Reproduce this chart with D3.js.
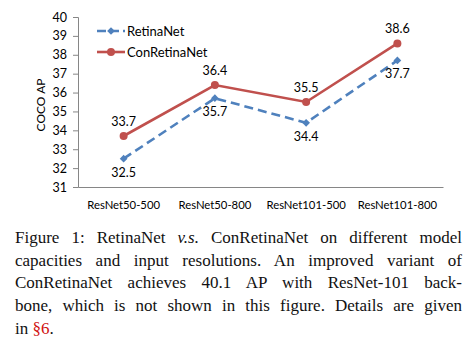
<!DOCTYPE html>
<html>
<head>
<meta charset="utf-8">
<script src="https://cdn.jsdelivr.net/npm/d3@7"></script>
<style>
  body { margin: 0; background: #fff; }
  #chart { position: absolute; left: 0; top: 0; }
  #caption {
    position: absolute; left: 15px; top: 227px; width: 447px;
    font-family: "Liberation Serif", "Times New Roman", serif;
    font-size: 17px; line-height: 22.7px; color: #111;
  }
  #caption .ln { text-align: justify; text-align-last: justify; white-space: nowrap; }
  #caption .ln.last { text-align-last: left; }
  #caption .ref { color: #d01010; }
</style>
</head>
<body>
<div id="chart"></div>
<div id="caption">
  <div class="ln">Figure 1: RetinaNet <i>v.s.</i> ConRetinaNet on different model</div>
  <div class="ln">capacities and input resolutions. An improved variant of</div>
  <div class="ln">ConRetinaNet achieves 40.1 AP with ResNet-101 back-</div>
  <div class="ln">bone, which is not shown in this figure. Details are given</div>
  <div class="ln last">in <span class="ref">§6</span>.</div>
</div>
<script>
// categories and series
var categories = ['ResNet50-500', 'ResNet50-800', 'ResNet101-500', 'ResNet101-800'];
var retinaNet = [32.5, 35.7, 34.4, 37.7];
var conRetinaNet = [33.7, 36.4, 35.5, 38.6];
var yTicks = [31, 32, 33, 34, 35, 36, 37, 38, 39, 40];

var blue = '#4f81bd', red = '#c0504d';

var margin = {top: 17, left: 78},
    width = 365,
    height = 170;

var svg = d3.select('#chart')
  .append('svg')
    .attr('width', 471)
    .attr('height', 225)
  .append('g')
    .attr('transform', 'translate(' + margin.left + ',' + margin.top + ')');

var x = d3.scaleBand()
  .range([0, width])
  .domain(categories);

var y = d3.scaleLinear()
  .domain([31, 40])
  .range([height, 0]);

// Y axis
var yAxis = svg.append('g')
  .call(d3.axisLeft(y).tickValues(yTicks).tickSize(5).tickPadding(6).tickFormat(d3.format('d')));
yAxis.select('.domain').attr('stroke', '#868686');
yAxis.selectAll('.tick line').attr('stroke', '#868686');
yAxis.selectAll('text')
  .attr('font-family', 'Lato, sans-serif')
  .attr('font-size', '12.5px')
  .attr('fill', '#000');

// X axis
var xAxis = svg.append('g')
  .attr('transform', 'translate(0,' + height + ')')
  .call(d3.axisBottom(x).tickSize(0).tickPadding(14));
xAxis.select('.domain').attr('stroke', '#868686');
xAxis.selectAll('text')
  .attr('font-family', 'Lato, sans-serif')
  .attr('font-size', '11.3px')
  .attr('fill', '#000');

// Y axis label
svg.append('text')
  .attr('transform', 'translate(' + (-33) + ',' + (height / 2 + 3) + ') rotate(-90)')
  .attr('text-anchor', 'middle')
  .attr('font-family', 'Lato, sans-serif')
  .attr('font-size', '12px')
  .text('COCO AP');

var cx = function(i) { return x(categories[i]) + x.bandwidth() / 2; };
var line = d3.line()
  .x(function(d, i) { return cx(i); })
  .y(function(d) { return y(d); });

var diamond = d3.symbol().type(d3.symbolSquare).size(30);

// RetinaNet (dashed)
svg.append('path')
  .datum(retinaNet)
  .attr('d', line)
  .attr('fill', 'none')
  .attr('stroke', blue)
  .attr('stroke-width', 2.6)
  .attr('stroke-dasharray', '9,5');

svg.selectAll('.dia')
  .data(retinaNet)
  .enter()
  .append('path')
    .attr('d', diamond)
    .attr('transform', function(d, i) { return 'translate(' + cx(i) + ',' + y(d) + ') rotate(45)'; })
    .attr('fill', blue);

// ConRetinaNet
svg.append('path')
  .datum(conRetinaNet)
  .attr('d', line)
  .attr('fill', 'none')
  .attr('stroke', red)
  .attr('stroke-width', 2.6);

svg.selectAll('.dot')
  .data(conRetinaNet)
  .enter()
  .append('circle')
    .attr('cx', function(d, i) { return cx(i); })
    .attr('cy', function(d) { return y(d); })
    .attr('r', 4)
    .attr('fill', red);

// value labels
svg.selectAll('.lblB')
  .data(retinaNet)
  .enter()
  .append('text')
    .text(function(d) { return d.toFixed(1); })
    .attr('x', function(d, i) { return cx(i); })
    .attr('y', function(d) { return y(d) + 18; })
    .attr('text-anchor', 'middle')
    .attr('font-family', 'Lato, sans-serif')
    .attr('font-size', '12.5px');

svg.selectAll('.lblR')
  .data(conRetinaNet)
  .enter()
  .append('text')
    .text(function(d) { return d.toFixed(1); })
    .attr('x', function(d, i) { return cx(i); })
    .attr('y', function(d) { return y(d) - 10; })
    .attr('text-anchor', 'middle')
    .attr('font-family', 'Lato, sans-serif')
    .attr('font-size', '12.5px');

// legend
var legend = [
  {name: 'RetinaNet', color: blue, dash: '9,4', diamond: true},
  {name: 'ConRetinaNet', color: red, dash: null, diamond: false}
];
var lg = svg.selectAll('.legend')
  .data(legend)
  .enter()
  .append('g')
    .attr('transform', function(d, i) { return 'translate(19,' + (14 + i * 21) + ')'; });
lg.append('line')
  .attr('x1', 0).attr('x2', 28)
  .attr('stroke', function(d) { return d.color; })
  .attr('stroke-width', 2.6)
  .attr('stroke-dasharray', function(d) { return d.dash; });
lg.append('path')
  .attr('d', function(d) { return d.diamond ? diamond() : d3.symbol().type(d3.symbolCircle).size(50)(); })
  .attr('transform', function(d) { return 'translate(14,0)' + (d.diamond ? ' rotate(45)' : ''); })
  .attr('fill', function(d) { return d.color; });
lg.append('text')
  .attr('x', 30)
  .attr('y', 4.5)
  .attr('font-family', 'Lato, sans-serif')
  .attr('font-size', '13px')
  .text(function(d) { return d.name; });
</script>
</body>
</html>
